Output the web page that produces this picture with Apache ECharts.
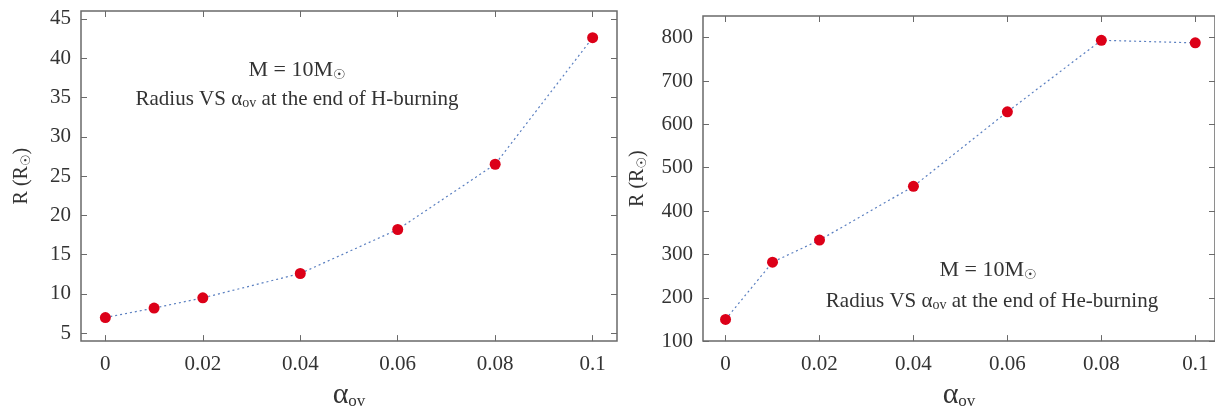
<!DOCTYPE html>
<html>
<head>
<meta charset="utf-8">
<title>Radius vs alpha_ov</title>
<script src="https://cdn.jsdelivr.net/npm/echarts@6/dist/echarts.min.js"></script>
<style>
html, body { margin: 0; padding: 0; background: #fff; }
#chart { width: 1215px; height: 415px; }
</style>
</head>
<body>
<div id="chart"></div>
<script>
// overshoot parameter values (x) and the radius at end of H / He burning
const alphaOv = [0, 0.01, 0.02, 0.04, 0.06, 0.08, 0.1];
const radiusH = [7.0, 8.2, 9.5, 12.6, 18.2, 26.5, 42.6];
const radiusHe = [150, 282, 333, 457, 629, 794, 788];

// tick labels
const xTicks = [0, 0.02, 0.04, 0.06, 0.08, 0.1];
const yTicksH = [5, 10, 15, 20, 25, 30, 35, 40, 45];
const yTicksHe = [100, 200, 300, 400, 500, 600, 700, 800];

const serif = "'Liberation Serif', 'DejaVu Serif', serif";
const ink = '#333';
const frame = '#6a6a6a';

const subRich = {
  a: { fontFamily: serif, fontSize: 30, color: ink },
  s: { fontFamily: serif, fontSize: 17, color: ink, verticalAlign: 'bottom', padding: [13, 0, 0, 0] }
};

function pairOf (values) {
  return values.map(function (v, i) { return [alphaOv[i], v] })
}

function xAx (grid, top, ticks) {
  return {
    type: 'value', gridIndex: grid,
    min: grid === 0 ? -0.005 : -0.0048, max: grid === 0 ? 0.105 : 0.1042,
    position: top ? 'top' : 'bottom',
    name: top ? '' : '{a|α}{s|ov}',
    nameLocation: 'middle', nameGap: 33,
    nameTextStyle: { rich: subRich },
    axisLine: { show: false, onZero: false },
    splitLine: { show: false },
    axisTick: { show: true, inside: true, length: 6, customValues: ticks, lineStyle: { color: frame } },
    axisLabel: {
      show: !top, customValues: ticks, margin: 13,
      fontFamily: serif, fontSize: 21, color: ink,
      formatter: function (v) { return String(Math.round(v * 100) / 100) }
    }
  }
}

function yAx (grid, right, min, max, ticks, gap) {
  return {
    type: 'value', gridIndex: grid, min: min, max: max,
    position: right ? 'right' : 'left',
    name: right ? '' : 'R (R{s|☉})',
    nameLocation: 'middle', nameGap: gap,
    nameTextStyle: {
      fontFamily: serif, fontSize: 20, color: ink,
      rich: { s: { fontFamily: "'DejaVu Sans', sans-serif", fontSize: 13, color: ink, verticalAlign: 'bottom', padding: [10, 0, 0, 0] } }
    },
    axisLine: { show: false, onZero: false },
    splitLine: { show: false },
    axisTick: { show: true, inside: true, length: 6, customValues: ticks, lineStyle: { color: frame } },
    axisLabel: { show: !right, customValues: ticks, margin: 10, fontFamily: serif, fontSize: 21, color: ink }
  }
}

function dots (name, values, grid) {
  return {
    name: name, type: 'line', xAxisIndex: grid * 2, yAxisIndex: grid * 2,
    data: pairOf(values),
    symbol: 'circle', symbolSize: 11,
    itemStyle: { color: '#dc0018' },
    lineStyle: { color: '#5a7fc0', width: 1.2, type: [2, 3] },
    z: 3
  }
}

function note (x, y, text, size) {
  return {
    type: 'text', x: x, y: y,
    style: {
      text: text, align: 'center', verticalAlign: 'middle',
      fontFamily: serif, fontSize: size, fill: ink,
      rich: {
        s: { fontFamily: serif, fontSize: Math.round(size * 0.65), fill: ink, verticalAlign: 'bottom', padding: [9, 0, 0, 0] },
        o: { fontFamily: "'DejaVu Sans', sans-serif", fontSize: 14, fill: ink, verticalAlign: 'bottom', padding: [10, 0, 0, 0] }
      }
    }
  }
}

const chart = echarts.init(document.getElementById('chart'))
chart.setOption({
  backgroundColor: '#fff',
  animation: false,
  grid: [
    { left: 81, top: 11, right: 598, bottom: 71, show: true, borderColor: frame, borderWidth: 1.5, backgroundColor: 'transparent' },
    { left: 703, top: 16, right: -4, bottom: 71, show: true, borderColor: frame, borderWidth: 1.5, backgroundColor: 'transparent' }
  ],
  xAxis: [
    xAx(0, false, xTicks), xAx(0, true, xTicks),
    xAx(1, false, xTicks), xAx(1, true, xTicks)
  ],
  yAxis: [
    yAx(0, false, 4, 46, yTicksH, 48), yAx(0, true, 4, 46, yTicksH, 0),
    yAx(1, false, 100, 850, yTicksHe, 54), yAx(1, true, 100, 850, yTicksHe, 0)
  ],
  series: [
    dots('H-burning', radiusH, 0),
    dots('He-burning', radiusHe, 1)
  ],
  graphic: [
    note(297, 70, 'M = 10M{o|☉}', 22),
    note(297, 99, 'Radius VS α{s|ov} at the end of H-burning', 21),
    note(988, 270, 'M = 10M{o|☉}', 22),
    note(992, 301, 'Radius VS α{s|ov} at the end of He-burning', 21)
  ]
})
</script>
</body>
</html>
